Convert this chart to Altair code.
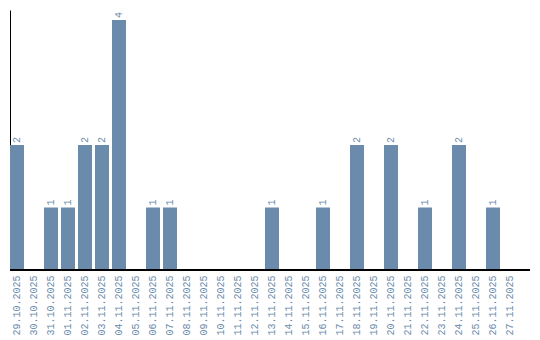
import altair as alt
import pandas as pd

dates = ["29.10.2025", "30.10.2025", "31.10.2025", "01.11.2025", "02.11.2025", "03.11.2025",
         "04.11.2025", "05.11.2025", "06.11.2025", "07.11.2025", "08.11.2025", "09.11.2025",
         "10.11.2025", "11.11.2025", "12.11.2025", "13.11.2025", "14.11.2025", "15.11.2025",
         "16.11.2025", "17.11.2025", "18.11.2025", "19.11.2025", "20.11.2025", "21.11.2025",
         "22.11.2025", "23.11.2025", "24.11.2025", "25.11.2025", "26.11.2025", "27.11.2025"]
counts = [2, 0, 1, 1, 2, 2, 4, 0, 1, 1, 0, 0, 0, 0, 0, 1, 0, 0, 1, 0, 2, 0, 2, 0, 1, 0, 2, 0, 1, 0]

df = pd.DataFrame({"date": dates, "count": counts})
color = "#6a8bab"
font = "Liberation Mono"

x = alt.X("date:N", sort=dates, title=None,
          scale=alt.Scale(range=[0, 507], paddingInner=0.176, paddingOuter=0),
          axis=alt.Axis(labelAngle=270, ticks=False, domain=False,
                        labelColor=color, labelFont=font, labelFontSize=10,
                        labelPadding=5))
y = alt.Y("count:Q", title=None, scale=alt.Scale(domain=[0, 4.16], nice=False),
          axis=alt.Axis(labels=False, ticks=False, grid=False, domainColor="black", title=None))

bars = alt.Chart(df).mark_bar(color=color).encode(x=x, y=y)
text = alt.Chart(df).transform_filter("datum.count > 0").mark_text(
    angle=270, align="left", baseline="middle", dx=2, color=color, font=font, fontSize=10
).encode(x=alt.X("date:N", sort=dates), y="count:Q", text="count:Q")
baseline = alt.Chart(df).mark_rule(color="black", strokeWidth=1).encode(
    x=alt.value(0), x2=alt.value(520), y=alt.value(260))

chart = (bars + text + baseline).properties(
    width=520, height=260, background="white",
    autosize=alt.AutoSizeParams(type="none"),
    padding={"left": 10, "top": 10, "right": 10, "bottom": 70},
).configure_view(stroke=None)

chart.save("out.html", embed_options={"renderer": "svg", "actions": False})
